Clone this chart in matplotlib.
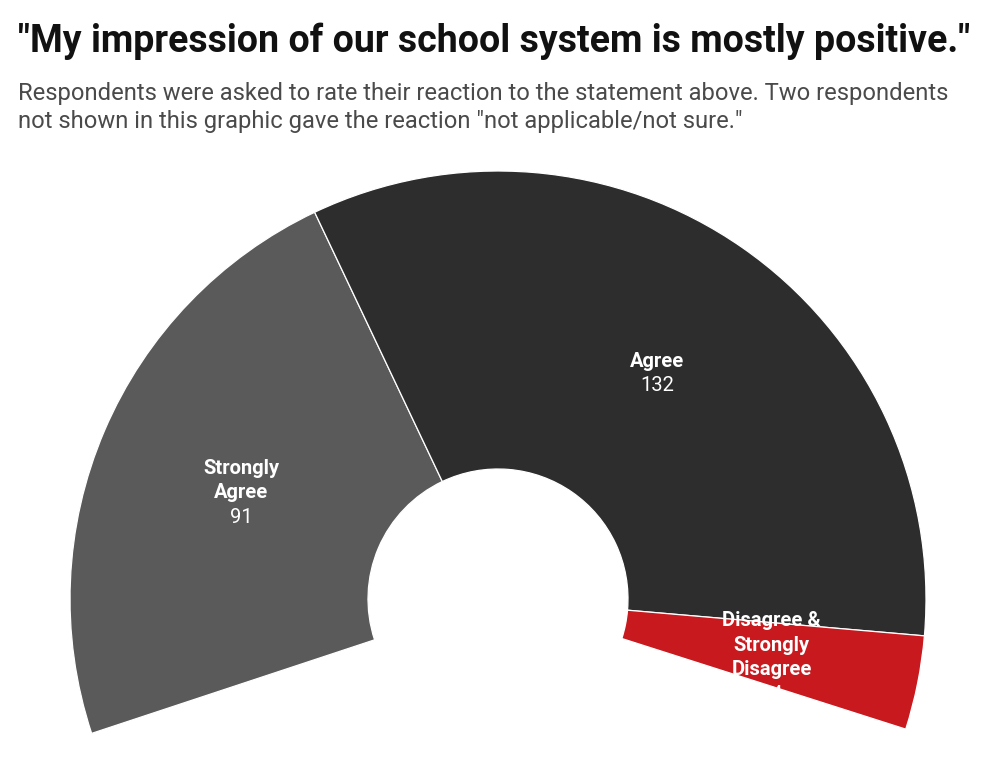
import matplotlib
matplotlib.use("Agg")
import matplotlib.pyplot as plt
import numpy as np

categories = ["Strongly\nAgree", "Agree", "Disagree &\nStrongly\nDisagree"]
values = [91, 132, 14]
colors = ["#5a5a5a", "#2d2d2d", "#c8191e"]

title = "\"My impression of our school system is mostly positive.\""
subtitle_lines = ["Respondents were asked to rate their reaction to the statement above. Two respondents",
                  "not shown in this graphic gave the reaction \"not applicable/not sure.\""]

W, H = 999, 779
fig = plt.figure(figsize=(W / 100, H / 100), dpi=100)
plt.rcParams['font.family'] = ['Roboto', 'DejaVu Sans']

cx, cy, R, r_in = 498, 599, 428, 130
ax = fig.add_axes([0, 0, 1, 1])

span = 216.0
total = sum(values)
fracs = [v / total * span / 360.0 for v in values]
wedges, _ = ax.pie(fracs, colors=colors, startangle=198.3, counterclock=False,
                   normalize=False, radius=1.0,
                   wedgeprops=dict(width=1 - r_in / R, edgecolor="white", linewidth=0.9))
ax.set_xlim(-cx / R, (W - cx) / R)
ax.set_ylim(-(H - cy) / R, cy / R)
ax.axis("off")

rmid = (1 + r_in / R) / 2
lh = 24.5 / R
shift = 3.5 / R
for w, cat, val in zip(wedges, categories, values):
    ang = np.deg2rad((w.theta1 + w.theta2) / 2)
    x, y = rmid * np.cos(ang), rmid * np.sin(ang) - shift
    nlines = cat.count("\n") + 1
    top = y + (nlines + 1) * lh / 2
    for i, line in enumerate(cat.split("\n")):
        ax.text(x, top - (i + 0.5) * lh, line, ha="center", va="center",
                color="white", fontsize=14.5, fontweight="bold")
    ax.text(x, top - (nlines + 0.5) * lh, str(val), ha="center", va="center",
            color="white", fontsize=14.5)

fig.text(18 / W, 1 - 52 / H, title, ha="left", va="baseline", fontsize=27,
         fontweight="bold", color="#111111")
for i, line in enumerate(subtitle_lines):
    fig.text(18 / W, 1 - (100 + 28 * i) / H, line, ha="left", va="baseline",
             fontsize=17.1, color="#4a4a4a")

fig.savefig("out.png", dpi=100, facecolor="white")
